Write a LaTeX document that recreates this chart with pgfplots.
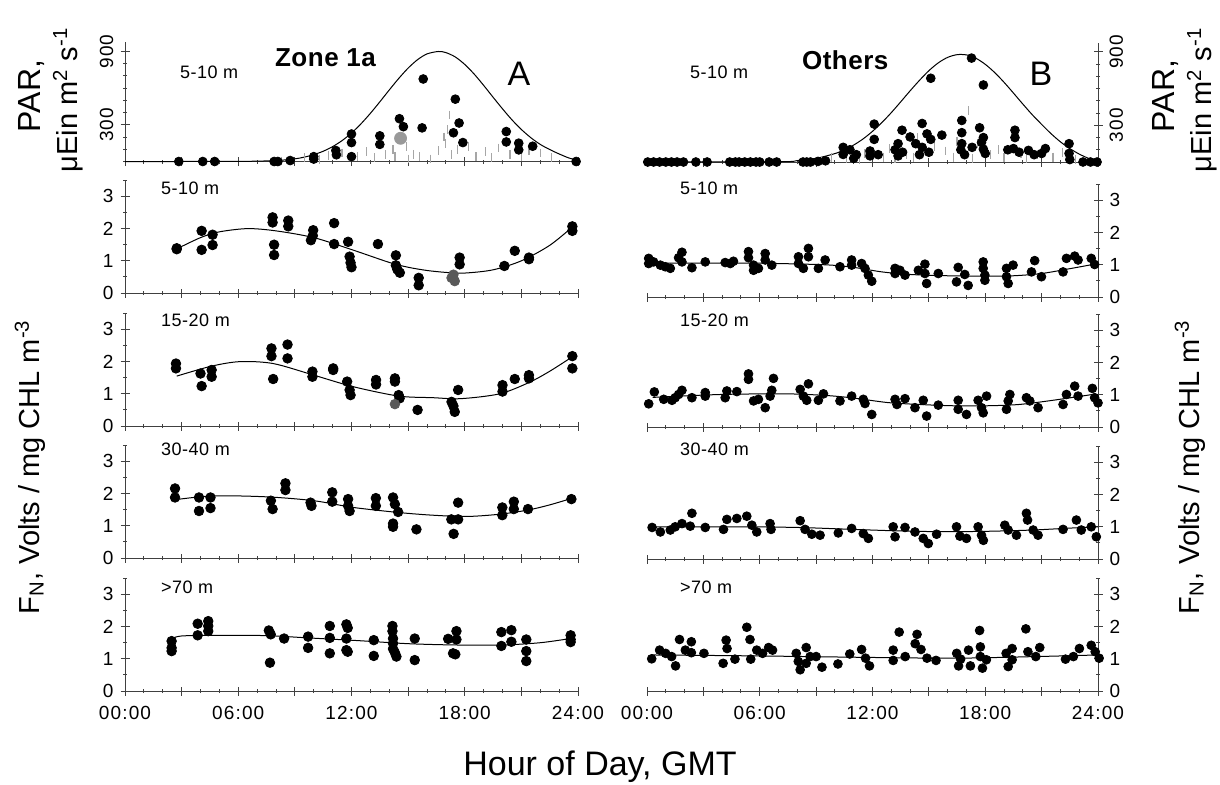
\documentclass[border=0pt]{standalone}
\usepackage{pgfplots}
\pgfplotsset{compat=1.18}
\usepackage{fontspec}
\setmainfont{Liberation Sans}
\newfontfamily\tickfont[LetterSpace=6]{Liberation Sans}
\newfontfamily\rowfont[LetterSpace=3]{Liberation Sans}
\newfontfamily\zonefont[LetterSpace=2]{Liberation Sans}

\pgfplotsset{
  common/.style={scale only axis, clip=false, xmin=0, xmax=24,
    xtick={0,3,...,24}, minor xtick={0,1,...,24},
    tick align=center, major tick length=4.5pt, minor tick length=2pt,
    axis line style={-, draw=black!75, line width=0.5pt},
    every tick/.style={black!75, line width=0.5pt},
    xticklabels={},
    /pgf/number format/assume math mode=true,
    tick label style={font=\tickfont\fontsize{9.5}{11}\selectfont, text=black},
  },
  fn/.style={height=56.35pt, ymin=0, ymax=3.5, ytick={0,1,2,3},
    minor ytick={0.5,1.5,2.5,3.5}},
  par/.style={height=59.6pt, ymin=0, ymax=975, ytick={300,900},
    minor ytick={0,100,...,900}},
  L/.style={axis x line*=bottom, axis y line*=left, width=226.5pt},
  R/.style={axis x line*=bottom, axis y line*=right, width=225.5pt},
  bottomlabels/.style={xticklabels={00:00,,06:00,,12:00,,18:00,,24:00},
    xticklabel style={yshift=-2pt}},
  dot/.style={only marks, mark=*, mark size=2.4pt, black},
  sdot/.style={only marks, mark=*, mark size=2.2pt, black},
  fit/.style={no marks, smooth, black, line width=0.5pt},
  dash/.style={only marks, mark=|, mark size=2.2pt, gray!70, mark options={line width=0.6pt}},
}

\begin{document}
\begin{tikzpicture}
\path[use as bounding box] (0,0) rectangle (610pt,-392pt);

% ---------------- Top left: PAR ----------------
\begin{axis}[common, par, L, at={(62.5pt,-80.75pt)}, anchor=south west,
  yticklabel style={rotate=90, anchor=south}]
\addplot[fit] coordinates {(0,0)(6,1)(8,8)(9,22)(9.5,36)(10,56)(10.5,84)(11,122)(11.5,171)(12,233)(12.5,308)(13,394)(13.5,488)(14,585)(14.5,679)(15,764)(15.5,833)(16,880)(16.6,900)(17,891)(17.5,855)(18,794)(18.5,715)(19,623)(19.5,526)(20,431)(20.5,341)(21,262)(21.5,195)(22,140)(22.5,98)(23,62)(23.5,30)(24,8)};
\addplot[dash] coordinates {(8.3,5)(9.5,30)(10.3,15)(10.8,50)(11.5,70)(12.3,40)(12.8,80)(13.2,30)(13.8,60)(14.2,100)(14.9,120)(15.3,60)(15.6,40)(16.2,20)(16.6,90)(17.0,150)(17.2,380)(17.3,60)(17.6,100)(18.2,120)(18.6,40)(19.1,80)(19.4,30)(19.8,110)(20.4,60)(21.0,40)(21.4,90)(22.0,70)(22.6,30)(14.3,40)(15.0,20)(16.9,200)(17.1,260)};
\addplot[only marks, mark=*, mark size=3pt, gray!80] coordinates {(14.6,190)};
\addplot[dot, mark size=2.2pt] coordinates {(2.85,0)(4.12,0)(4.75,0)(7.9,0)(8.1,0)(8.75,8)(10.0,20)(10.0,40)(11.17,90)(11.2,55)(12.0,225)(12.0,155)(12.0,40)(13.5,210)(13.5,140)(14.54,350)(14.75,285)(15.74,275)(15.8,675)(17.5,510)(17.7,315)(17.4,235)(17.9,155)(20.2,245)(20.2,160)(20.86,150)(20.86,95)(21.6,125)(23.9,0)};
\end{axis}

% ---------------- Top right: PAR ----------------
\begin{axis}[common, par, R, at={(323.5pt,-81pt)}, anchor=south west,
  yticklabel style={rotate=90, anchor=north}]
\addplot[fit] coordinates {(0,0)(7,2)(8,12)(9,30)(10,69)(10.5,99)(11,139)(11.5,189)(12,251)(12.5,323)(13,404)(13.5,492)(14,582)(14.5,668)(15,747)(15.5,811)(16,856)(16.5,878)(17,876)(17.5,849)(18,799)(18.5,732)(19,652)(19.5,564)(20,474)(20.5,387)(21,308)(21.5,232)(22,165)(22.5,110)(23,65)(23.5,30)(24,8)};
\addplot[dash] coordinates {(9.3,10)(9.8,40)(10.6,30)(11.3,20)(11.6,70)(12.6,40)(12.9,110)(13.2,30)(13.8,60)(14.2,40)(14.4,200)(15.3,130)(15.9,90)(16.3,40)(16.5,170)(16.9,60)(17.1,420)(17.3,30)(17.6,150)(18.3,60)(18.7,100)(19.0,40)(19.9,70)(20.2,30)(20.8,60)(21.6,40)(22.1,80)(22.8,20)};
\addplot[sdot, mark size=2.2pt] coordinates {(0.04,0)(0.35,0)(0.67,0)(1.0,0)(1.3,0)(1.6,0)(1.94,0)(2.6,0)(3.2,0)(4.4,0)(4.7,0)(4.9,0)(5.2,0)(5.5,0)(5.8,0)(6.0,0)(6.5,0)(6.9,0)(8.3,0)(8.5,0)(8.7,0)(9.1,5)(9.5,10)(10.44,120)(10.44,62)(11.14,60)(11.87,90)(11.87,50)(12.09,310)(12.09,185)(13.36,150)(13.36,50)(13.57,260)(14.0,205)(14.64,315)(14.64,120)(15.0,80)(15.1,185)(15.1,685)(15.69,220)(16.75,340)(16.75,240)(16.75,150)(17.27,850)(17.9,630)(17.9,200)(17.9,105)(17.3,120)(19.58,260)(19.58,200)(19.5,110)(20.3,95)(21.2,110)(22.46,150)(22.46,70)(22.5,20)(23.2,0)(23.6,0)(23.95,0)(13.2,100)(13.6,80)(14.3,150)(14.5,60)(14.9,230)(16.7,100)(16.9,60)(17.7,280)(17.8,160)(18.0,70)(19.2,100)(19.8,80)(20.6,60)(21.0,70)(12.3,60)(11.0,30)(10.8,100)};
\end{axis}

% ---------------- Left rows ----------------
\begin{axis}[common, fn, L, at={(62.5pt,-146.5pt)}, anchor=south west]
\addplot[fit] coordinates {(2.74,1.37)(4,1.72)(5,1.9)(6.5,2.0)(8,1.93)(10,1.72)(12,1.35)(14,0.95)(15,0.8)(16,0.7)(17,0.64)(18,0.62)(19.5,0.72)(21,1.0)(22.5,1.48)(23.7,2.05)};
\addplot[dot] coordinates {(2.74,1.39)(2.74,1.36)(4.06,1.93)(4.06,1.34)(4.64,1.81)(4.64,1.49)(7.82,2.35)(7.82,2.19)(7.9,1.5)(7.9,1.18)(8.65,2.25)(8.65,2.07)(9.97,1.95)(9.85,1.64)(9.95,1.78)(11.08,2.17)(11.08,1.52)(11.82,1.59)(11.9,1.13)(11.95,0.94)(12.0,0.8)(13.4,1.52)(14.35,1.17)(14.35,0.86)(14.43,0.73)(14.56,0.63)(15.56,0.47)(15.56,0.24)(17.73,1.10)(17.73,0.89)(20.1,0.84)(20.65,1.31)(21.4,1.1)(21.4,1.05)(23.7,2.07)(23.7,1.93)};
\addplot[only marks, mark=*, mark size=2.4pt, black!65] coordinates {(17.3,0.47)(17.47,0.37)(17.4,0.57)};
\end{axis}

\begin{axis}[common, fn, L, at={(62.5pt,-213pt)}, anchor=south west]
\addplot[fit] coordinates {(2.74,1.55)(4.59,1.86)(6.1,2.0)(7.85,1.94)(10,1.58)(12.1,1.22)(14.5,0.93)(16.3,0.88)(17.8,0.85)(19.85,1.0)(21.4,1.35)(22.5,1.7)(23.7,2.15)};
\addplot[dot] coordinates {(2.7,1.94)(2.7,1.79)(4.0,1.63)(4.06,1.24)(4.59,1.74)(4.59,1.53)(7.76,2.41)(7.76,2.17)(7.85,1.46)(8.61,2.53)(8.61,2.1)(9.93,1.69)(9.93,1.53)(11.03,1.79)(11.03,1.74)(11.77,1.38)(11.9,1.12)(11.95,0.96)(13.3,1.43)(13.3,1.29)(14.3,1.48)(14.3,1.38)(14.5,0.96)(14.55,0.86)(15.5,0.5)(17.3,0.75)(17.4,0.62)(17.47,0.44)(17.65,1.12)(20.0,1.27)(20.0,1.07)(20.65,1.46)(21.4,1.58)(21.4,1.48)(23.7,2.17)(23.7,1.79)};
\addplot[only marks, mark=*, mark size=2.4pt, black!65] coordinates {(14.3,0.68)};
\end{axis}

\begin{axis}[common, fn, L, at={(62.5pt,-279pt)}, anchor=south west]
\addplot[fit] coordinates {(2.65,1.81)(4.67,1.93)(7.5,1.9)(10,1.78)(12.1,1.57)(14.56,1.41)(16.3,1.33)(18.1,1.29)(19.85,1.36)(21.35,1.49)(22.5,1.65)(23.65,1.85)};
\addplot[dot] coordinates {(2.65,2.16)(2.65,1.88)(3.92,1.88)(3.92,1.46)(4.53,1.88)(4.53,1.55)(7.73,1.78)(7.82,1.52)(8.5,2.32)(8.5,2.11)(9.83,1.72)(9.88,1.62)(10.98,2.04)(10.98,1.75)(11.82,1.83)(11.82,1.62)(11.9,1.46)(13.29,1.86)(13.29,1.62)(14.2,1.88)(14.3,1.67)(14.47,1.43)(14.2,1.07)(14.2,0.97)(15.44,0.89)(17.29,1.2)(17.65,1.72)(17.65,1.2)(17.41,0.75)(19.99,1.57)(19.99,1.33)(20.6,1.75)(20.6,1.52)(21.35,1.52)(23.65,1.83)};
\end{axis}

\begin{axis}[common, fn, L, bottomlabels, at={(62.5pt,-345.5pt)}, anchor=south west]
\addplot[fit] coordinates {(2.47,1.62)(3.0,1.71)(5,1.73)(7.5,1.72)(9.7,1.65)(12.5,1.56)(15,1.47)(17.5,1.43)(20,1.43)(22,1.5)(23.6,1.63)};
\addplot[dot] coordinates {(2.47,1.55)(2.47,1.34)(2.47,1.24)(3.85,2.09)(3.85,1.73)(4.41,2.17)(4.41,2.02)(4.41,1.86)(7.62,1.88)(7.72,1.76)(7.68,0.88)(8.43,1.63)(9.7,1.69)(9.7,1.34)(10.85,2.02)(10.85,1.65)(10.85,1.17)(11.73,2.07)(11.8,1.96)(11.73,1.63)(11.73,1.27)(11.8,1.22)(13.18,1.58)(13.18,1.09)(14.17,2.02)(14.17,1.86)(14.2,1.63)(14.2,1.48)(14.2,1.31)(14.3,1.19)(14.38,1.07)(15.35,1.63)(15.35,0.96)(17.12,1.62)(17.56,1.86)(17.56,1.6)(17.38,1.17)(17.5,1.14)(19.94,1.83)(19.94,1.40)(20.47,1.89)(20.47,1.53)(21.26,1.6)(21.26,1.24)(21.26,0.93)(23.61,1.73)(23.61,1.6)(23.61,1.52)};
\end{axis}

% ---------------- Right rows ----------------
\begin{axis}[common, fn, R, at={(323.5pt,-148.5pt)}, anchor=south west]
\addplot[fit] coordinates {(0,1.05)(3,1.05)(6,1.05)(9.5,1.0)(11,0.92)(12.5,0.78)(14,0.7)(16,0.66)(18,0.65)(19.5,0.66)(21,0.73)(22.5,0.88)(24,1.04)};
\addplot[sdot] coordinates {(0.09,1.2)(0.09,1.04)(0.35,1.09)(0.71,0.99)(0.97,0.94)(1.24,0.89)(1.68,1.22)(1.86,1.39)(1.86,1.09)(2.39,0.91)(3.1,1.09)(4.16,1.07)(4.43,1.04)(4.6,1.11)(5.4,1.41)(5.4,1.22)(5.67,0.99)(5.67,0.83)(5.93,0.89)(6.29,1.35)(6.29,1.15)(6.64,0.99)(8.06,1.25)(8.06,1.04)(8.32,0.89)(8.59,1.51)(8.59,1.25)(9.12,0.89)(9.48,1.15)(10.27,0.94)(10.89,1.15)(10.89,0.99)(11.42,1.04)(11.6,0.89)(11.78,0.68)(11.96,0.49)(13.2,0.89)(13.2,0.73)(13.46,0.83)(13.73,0.68)(14.44,0.83)(14.79,1.02)(14.79,0.73)(14.88,0.42)(15.5,0.73)(16.56,0.92)(16.47,0.47)(16.91,0.70)(17.09,0.36)(17.89,1.09)(17.89,0.89)(17.98,0.68)(17.98,0.52)(19.13,0.89)(19.13,0.63)(19.22,0.42)(19.48,0.99)(20.46,0.78)(20.63,1.13)(20.99,0.63)(22.14,0.78)(22.32,1.2)(22.76,1.27)(22.94,1.15)(23.64,1.2)(23.82,1.01)};
\end{axis}

\begin{axis}[common, fn, R, at={(323.5pt,-213.5pt)}, anchor=south west]
\addplot[fit] coordinates {(0.3,0.92)(3.9,1.01)(7.4,1.03)(9.5,0.98)(11,0.9)(12.8,0.76)(14.5,0.7)(16.3,0.66)(18.1,0.66)(19.8,0.7)(21.6,0.83)(23.7,1.01)};
\addplot[sdot] coordinates {(0.09,0.72)(0.39,1.09)(0.89,0.86)(1.33,0.83)(1.5,0.91)(1.68,1.01)(1.86,1.14)(2.39,0.91)(3.1,1.07)(3.1,0.96)(4.16,0.91)(4.25,1.12)(4.78,1.1)(5.4,1.65)(5.4,1.48)(5.67,0.81)(5.93,0.86)(6.29,0.6)(6.64,1.14)(6.73,1.51)(6.55,0.96)(8.15,1.17)(8.32,0.96)(8.5,0.83)(8.59,1.34)(9.12,0.83)(9.39,1.03)(10.27,0.81)(10.89,0.96)(11.51,0.86)(11.6,0.73)(11.96,0.39)(13.2,0.86)(13.3,0.7)(13.73,0.88)(14.26,0.6)(14.7,0.83)(14.88,0.34)(15.5,0.68)(16.56,0.83)(16.56,0.55)(17.0,0.39)(17.62,0.83)(17.8,0.6)(17.89,0.44)(18.07,0.96)(19.13,0.55)(19.22,0.81)(19.31,1.01)(20.19,0.91)(20.37,0.81)(20.81,0.6)(22.14,0.7)(22.32,1.01)(22.76,1.27)(22.94,0.96)(23.7,1.2)(23.82,0.91)(24.0,0.75)};
\end{axis}

\begin{axis}[common, fn, R, at={(323.5pt,-279.5pt)}, anchor=south west]
\addplot[fit] coordinates {(0.2,1.0)(5,1.0)(8,0.98)(10.5,0.93)(13,0.88)(15.5,0.85)(18,0.86)(20.5,0.9)(22.5,0.96)(24,1.0)};
\addplot[sdot] coordinates {(0.27,0.98)(0.71,0.84)(1.24,0.9)(1.5,1.0)(1.86,1.1)(2.39,1.42)(2.3,1.02)(3.1,0.98)(4.07,0.92)(4.25,1.23)(4.78,1.26)(5.31,1.33)(5.58,1.05)(5.84,0.84)(6.55,1.1)(6.6,0.92)(8.15,1.19)(8.41,0.92)(8.77,0.77)(9.21,0.74)(10.18,0.81)(10.89,0.95)(11.51,0.79)(11.78,0.64)(13.1,1.0)(13.2,0.69)(13.73,0.98)(14.26,0.84)(14.7,0.64)(14.97,0.48)(15.41,0.77)(16.47,1.0)(16.65,0.71)(17.0,0.64)(17.62,1.0)(17.8,0.74)(17.9,0.58)(19.04,1.05)(19.22,0.9)(19.66,0.74)(20.19,1.42)(20.25,1.21)(20.55,0.9)(20.81,0.74)(22.14,0.92)(22.85,1.21)(23.11,0.9)(23.64,1.0)(23.91,0.69)};
\end{axis}

\begin{axis}[common, fn, R, bottomlabels, at={(323.5pt,-345.5pt)}, anchor=south west]
\addplot[fit] coordinates {(0.2,1.12)(5.9,1.09)(12.3,1.04)(16.5,1.02)(20.7,1.07)(24,1.12)};
\addplot[sdot] coordinates {(0.25,1.0)(0.67,1.27)(0.99,1.17)(1.31,1.07)(1.52,0.78)(1.73,1.6)(2.04,1.27)(2.36,1.53)(2.36,1.19)(3.03,1.17)(4.05,0.86)(4.21,1.58)(4.26,1.32)(4.68,0.99)(5.31,1.98)(5.48,1.6)(5.52,0.99)(5.84,1.27)(6.15,1.17)(6.47,1.35)(6.68,1.27)(7.94,1.17)(8.05,0.92)(8.15,0.66)(8.47,1.35)(8.68,1.07)(8.47,0.86)(9.0,1.07)(9.31,0.74)(10.16,0.84)(10.79,1.15)(11.42,1.29)(11.63,1.02)(11.84,0.78)(13.1,1.27)(13.1,0.95)(13.42,1.83)(13.74,1.07)(14.27,1.47)(14.37,1.76)(14.58,1.29)(14.9,1.02)(15.38,0.95)(16.48,1.17)(16.58,0.78)(16.69,0.99)(17.11,1.27)(17.21,0.78)(17.7,1.88)(17.74,1.37)(17.74,1.07)(17.85,0.71)(18.06,0.97)(19.11,1.17)(19.22,0.76)(19.43,1.32)(19.43,0.97)(20.16,1.93)(20.27,1.22)(20.69,1.07)(20.9,1.35)(22.27,0.99)(22.69,1.07)(23.01,1.32)(23.64,1.42)(23.85,1.22)(24.06,1.02)};
\end{axis}

% ---------------- Texts ----------------
\node[anchor=west, font=\rowfont\fontsize{9}{10}\selectfont] at (86.5pt,-36pt) {5-10 m};
\node[anchor=west, font=\zonefont\bfseries\fontsize{13}{15}\selectfont] at (134pt,-29pt) {Zone 1a};
\node[font=\fontsize{17}{19}\selectfont] at (259.5pt,-37pt) {A};
\node[anchor=west, font=\rowfont\fontsize{9}{10}\selectfont] at (341.5pt,-36pt) {5-10 m};
\node[anchor=west, font=\zonefont\bfseries\fontsize{13}{15}\selectfont] at (397.5pt,-30pt) {Others};
\node[font=\fontsize{17}{19}\selectfont] at (520.5pt,-37pt) {B};

\foreach \yy/\tt in {94/5-10 m,160/15-20 m,224.5/30-40 m,293.5/>70 m}{
  \node[anchor=west, font=\rowfont\fontsize{9}{10}\selectfont] at (77pt,-\yy pt) {\tt};
  \node[anchor=west, font=\rowfont\fontsize{9}{10}\selectfont] at (336.5pt,-\yy pt) {\tt};
}

\node[rotate=90, font=\fontsize{14.5}{17}\selectfont] at (15pt,-233.5pt) {F\textsubscript{N}, Volts / mg CHL m\textsuperscript{-3}};
\node[rotate=90, font=\fontsize{14.5}{17}\selectfont] at (595pt,-233.5pt) {F\textsubscript{N}, Volts / mg CHL m\textsuperscript{-3}};
\node[rotate=90, font=\fontsize{16}{18}\selectfont] at (16pt,-48pt) {PAR,};
\node[rotate=90, font=\fontsize{14.5}{17}\selectfont] at (34pt,-50pt) {μEin m\textsuperscript{2} s\textsuperscript{-1}};
\node[rotate=90, font=\fontsize{16}{18}\selectfont] at (583pt,-48pt) {PAR,};
\node[rotate=90, font=\fontsize{14.5}{17}\selectfont] at (601pt,-50pt) {μEin m\textsuperscript{2} s\textsuperscript{-1}};

\node[font=\fontsize{17}{20}\selectfont] at (300pt,-383.5pt) {Hour of Day, GMT};
\end{tikzpicture}
\end{document}
